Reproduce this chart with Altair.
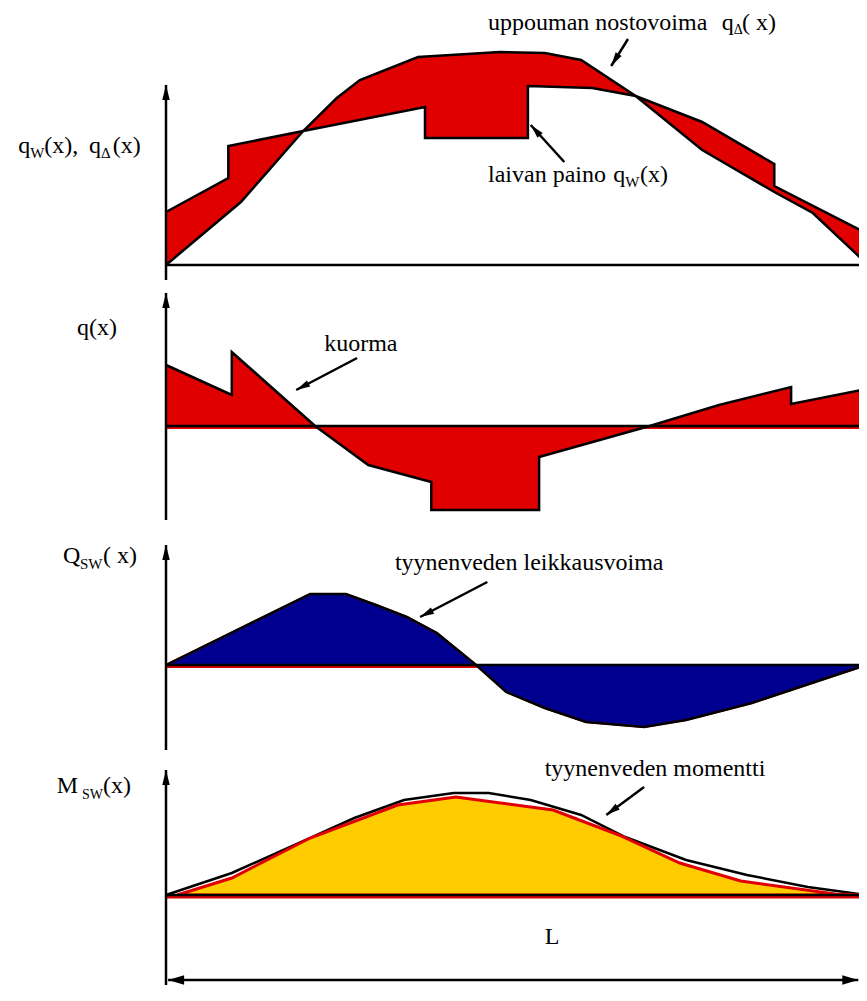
import math
import numpy as np
import pandas as pd
import altair as alt

# ---- data (x in % of ship length L, y in arbitrary load units) ----
# Panel 1: ship weight q_W(x) (stepwise) and buoyancy q_Δ(x)
w_x = [0, 8.9, 8.9, 19.6, 37.0, 37.0, 51.7, 51.7, 60.9, 67.1, 76.6, 86.9, 86.9, 100]
w_y = [53, 87, 119, 134, 158, 127, 127, 179, 177, 169, 143, 101, 79, 32]
b_x = [0, 10.7, 19.6, 24.4, 27.7, 36.0, 47.7, 54.1, 59.3, 67.1, 76.6, 86.9, 92.4, 100]
b_y = [0, 63, 134, 167, 185, 208, 213, 212, 205, 169, 115, 73, 52, 2]
# Panel 2: load q(x)
q_x = [0, 9.4, 9.4, 21.3, 28.9, 37.9, 37.9, 53.3, 53.3, 69.1, 79.0, 89.3, 89.3, 100]
q_y = [61, 31, 74, 0, -39, -56, -84, -84, -31, 0, 21, 39, 22, 37]
# Panel 3: still-water shear force Q_SW(x)
s_x = [0, 20.6, 25.7, 30.0, 34.4, 38.7, 44.3, 48.6, 54.1, 60.0, 68.3, 74.3, 83.7, 100]
s_y = [0, 71, 71, 60, 48, 32, 0, -27, -43, -57, -62, -55, -38, 0]
# Panel 4: still-water bending moment M_SW(x) (outline and filled shape)
m_x = [0, 9.4, 20.6, 26.9, 34.0, 41.1, 46.1, 52.1, 59.3, 65.6, 74.3, 83.0, 91.7, 100]
m_y = [0, 22, 57, 77, 95, 102, 102, 95, 80, 58, 35, 20, 8, 0]
mf_x = [1.6, 9.4, 20.6, 33.1, 41.4, 55.3, 64.7, 73.4, 82.1, 95.6, 100]
mf_y = [0, 17, 57, 90, 98, 85, 60, 32, 14, 1, 0]

# ---- annotations ----
labels = {
    1: [("uppouman nostovoima", 46.0, 235, 24), ("q", 79.4, 235, 24), ("Δ", 81.1, 231, 14),
        ("( x)", 82.3, 235, 24),
        ("q", -21.1, 112, 24), ("W", -19.4, 107, 15), ("(x),", -17.4, 112, 24),
        ("q", -11.0, 112, 24), ("Δ", -9.3, 107, 15), ("(x)", -7.6, 112, 24),
        ("laivan paino", 46.0, 83, 24), ("q", 63.9, 83, 24), ("W", 65.6, 78, 15), ("(x)", 67.7, 83, 24)],
    2: [("q(x)", -12.7, 91, 24), ("kuorma", 22.6, 75, 24)],
    3: [("Q", -14.7, 102, 24), ("SW", -12.3, 96, 15), ("( x)", -9.0, 102, 24),
        ("tyynenveden leikkausvoima", 32.7, 95, 24)],
    4: [("M", -15.6, 102, 24), ("SW", -12.0, 96, 14), ("(x)", -9.0, 102, 24),
        ("tyynenveden momentti", 54.1, 119, 24), ("L", 54.1, -49, 24)],
}
callouts = {1: [(66.0, 226, 63.6, 199), (56.9, 103, 52.1, 140)],
            2: [(27.3, 68, 18.6, 36)],
            3: [(45.9, 83, 36.3, 48)],
            4: [(68.3, 108, 62.9, 80)]}
axis_tip = {1: 180, 2: 133, 3: 120, 4: 125}
y_dom = {1: [-15, 257], 2: [-94, 146], 3: [-85, 145], 4: [-90, 145]}
heights = {1: 272, 2: 240, 3: 230, 4: 235}
dim_y = -85
dim_x = [0.3, 98.9]

WIDTH = 851
PXX = 7.0
X0 = -22.571
X1 = X0 + WIDTH / PXX
FONT = "Liberation Serif, Times New Roman, Times, DejaVu Serif, serif"
RED, BLUE, YEL = "#E00000", "#000090", "#FFCC00"
HEAD = "M0,0L-0.5,2L0.5,2Z"
DHEAD = "M0,0L-0.6,2L0.6,2Z"
EPS = 0.02

xs = alt.Scale(domain=[X0, X1], nice=False, zero=False)


def strict(x):
    out = []
    for v in x:
        if out and v <= out[-1]:
            v = out[-1] + EPS
        out.append(v)
    return out


def band(ax, ay, bx, by):
    rows = []
    for i in range(len(ax)):
        rows.append((ax[i], ay[i], float(np.interp(ax[i], bx, by))))
        if i + 1 < len(ax) and ax[i + 1] > ax[i]:
            for xv, yv in zip(bx, by):
                if ax[i] < xv < ax[i + 1]:
                    t = (xv - ax[i]) / (ax[i + 1] - ax[i])
                    rows.append((xv, ay[i] + t * (ay[i + 1] - ay[i]), yv))
    df = pd.DataFrame(rows, columns=["x", "y", "y2"])
    df["x"] = strict(list(df["x"]))
    return df


def series(x, y):
    return pd.DataFrame({"x": x, "y": y, "i": range(len(x))})


def fill_series(x, y):
    return pd.DataFrame({"x": strict(list(x)), "y": y, "y2": [0] * len(x)})


def panel(k, layers_extra):
    ys = alt.Scale(domain=y_dom[k], nice=False, zero=False)
    X = alt.X("x:Q", scale=xs, axis=None)
    Y = alt.Y("y:Q", scale=ys, axis=None)
    layers = []
    for lay in layers_extra:
        layers.append(lay(X, Y, ys))
    # baseline
    layers.append(alt.Chart(pd.DataFrame({"x": [0], "x2": [100], "y": [0]})).mark_rule(
        color="black", strokeWidth=2.5, clip=True).encode(x=X, x2="x2:Q", y=Y))
    # vertical axis with arrow head
    top = axis_tip[k]
    layers.append(alt.Chart(pd.DataFrame({"x": [0], "y": [y_dom[k][0]], "y2": [top]})).mark_rule(
        color="black", strokeWidth=2.5, clip=True).encode(x=X, y=Y, y2="y2:Q"))
    layers.append(alt.Chart(pd.DataFrame({"x": [0], "y": [top], "a": [0]})).mark_point(
        shape=HEAD, filled=True, color="black", opacity=1, size=225, clip=True).encode(
        x=X, y=Y, angle=alt.Angle("a:Q", scale=None)))
    # labels
    tdf = pd.DataFrame(labels[k], columns=["t", "x", "y", "s"])
    layers.append(alt.Chart(tdf).mark_text(align="left", baseline="alphabetic", font=FONT,
                                           color="black", clip=True).encode(
        x=X, y=Y, text="t:N", size=alt.Size("s:Q", scale=None)))
    # callout arrows
    rows = []
    for tx, ty, hx, hy in callouts[k]:
        dxp = (hx - tx) * PXX
        dyp = -(hy - ty)
        ang = math.degrees(math.atan2(dxp, -dyp)) % 360
        rows.append({"x": tx, "y": ty, "x2": hx, "y2": hy, "a": ang})
    cdf = pd.DataFrame(rows)
    layers.append(alt.Chart(cdf).mark_rule(color="black", strokeWidth=2.5, clip=True).encode(
        x=X, y=Y, x2="x2:Q", y2="y2:Q"))
    layers.append(alt.Chart(cdf).mark_point(shape=HEAD, filled=True, color="black", opacity=1,
                                            size=196, clip=True).encode(
        x=alt.X("x2:Q", scale=xs, axis=None), y=alt.Y("y2:Q", scale=ys, axis=None),
        angle=alt.Angle("a:Q", scale=None)))
    return alt.layer(*layers).properties(width=WIDTH, height=heights[k])


def area(df, color, **kw):
    def f(X, Y, ys):
        return alt.Chart(df).mark_area(color=color, opacity=1, orient="vertical", clip=True,
                                       **kw).encode(x=X, y=Y, y2="y2:Q")
    return f


def line(df):
    def f(X, Y, ys):
        return alt.Chart(df).mark_line(color="black", strokeWidth=2.5, clip=True).encode(
            x=X, y=Y, order="i:Q")
    return f


def red_under(w=2):
    def f(X, Y, ys):
        return alt.Chart(pd.DataFrame({"x": [0], "x2": [100], "y": [-2]})).mark_rule(
            color=RED, strokeWidth=w, clip=True).encode(x=X, x2="x2:Q", y=Y)
    return f


def p4_dim():
    dim = pd.DataFrame({"x": [dim_x[0]], "x2": [dim_x[1]], "y": [dim_y]})
    heads = pd.DataFrame({"x": dim_x, "y": [dim_y, dim_y], "a": [270, 90]})

    def f(X, Y, ys):
        return alt.layer(
            alt.Chart(dim).mark_rule(color="black", strokeWidth=2.5, clip=True).encode(
                x=X, x2="x2:Q", y=Y),
            alt.Chart(heads).mark_point(shape=DHEAD, filled=True, color="black", opacity=1,
                                        size=256, clip=True).encode(
                x=X, y=Y, angle=alt.Angle("a:Q", scale=None)),
        )
    return f


p1 = panel(1, [area(band(w_x, w_y, b_x, b_y), RED),
               line(series(w_x, w_y)), line(series(b_x, b_y))])
p2 = panel(2, [red_under(), area(fill_series(q_x, q_y), RED), line(series(q_x, q_y))])
p3 = panel(3, [red_under(), area(fill_series(s_x, s_y), BLUE, stroke=RED, strokeWidth=2),
               line(series(s_x, s_y))])
p4 = panel(4, [red_under(3), line(series(m_x, m_y)),
               area(fill_series(mf_x, mf_y), YEL, stroke=RED, strokeWidth=3), p4_dim()])

chart = alt.vconcat(p1, p2, p3, p4, spacing=0, bounds="flush").properties(
    padding=0, background="white").configure_view(stroke=None)

chart.save("out.html", embed_options={"renderer": "svg", "actions": False})
